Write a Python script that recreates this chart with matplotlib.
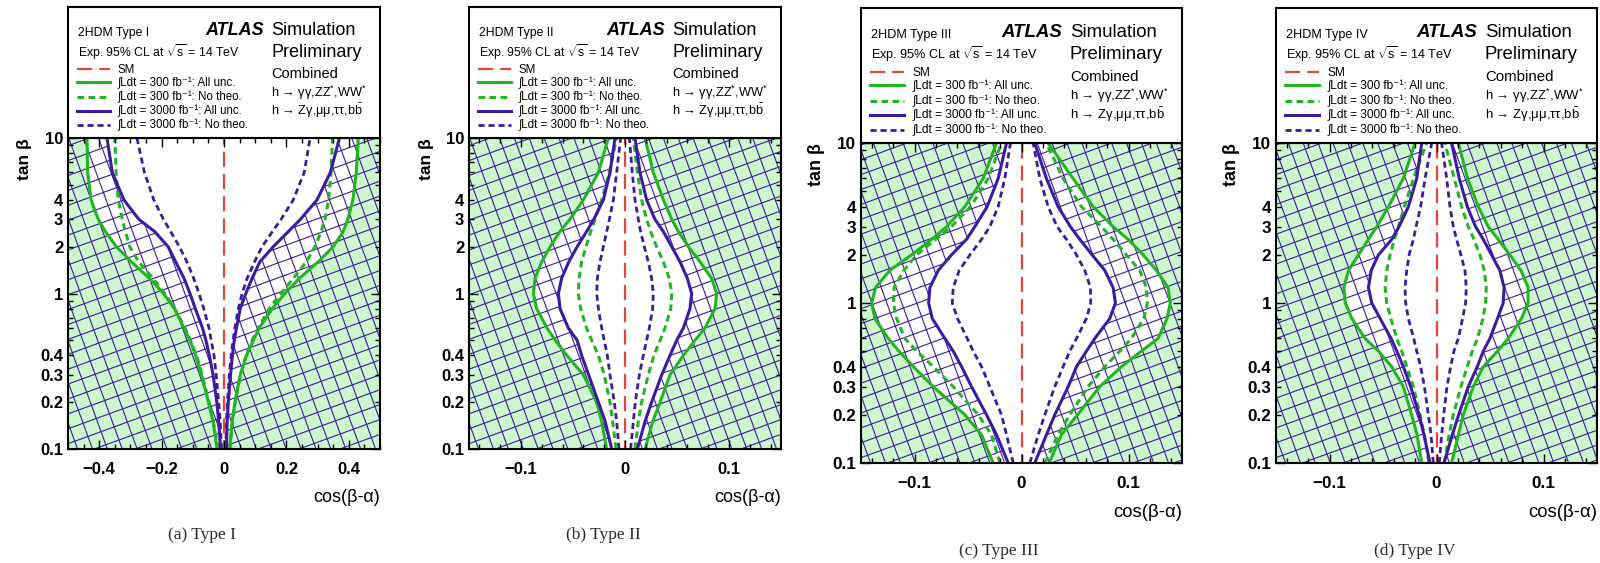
import numpy as np
import matplotlib
matplotlib.use("Agg")
import matplotlib.pyplot as plt
from matplotlib.collections import LineCollection
from matplotlib.ticker import FixedLocator, FuncFormatter, MultipleLocator

plt.rcParams['font.family'] = ['Liberation Sans', 'DejaVu Sans']
plt.rcParams['mathtext.fontset'] = 'custom'
plt.rcParams['mathtext.rm'] = 'Liberation Sans'
plt.rcParams['mathtext.it'] = 'Liberation Sans:italic'
plt.rcParams['mathtext.bf'] = 'Liberation Sans:bold'

# tan(beta) values at which the contour edges are given
tanb = [0.1, 0.15, 0.2, 0.3, 0.4, 0.5, 0.6, 0.8, 1.0, 1.25, 1.6, 2.0, 2.5, 3.0, 4.0, 6.0, 10.0]

# Type I: left / right edges of the allowed cos(beta-alpha) band
t1_300all_lo = [-0.022, -0.035, -0.050, -0.072, -0.091, -0.109, -0.128, -0.159, -0.194, -0.239, -0.297, -0.345, -0.380, -0.403, -0.426, -0.437, -0.439]
t1_300all_hi = [0.018, 0.026, 0.035, 0.052, 0.072, 0.094, 0.113, 0.155, 0.195, 0.241, 0.302, 0.350, 0.382, 0.397, 0.413, 0.424, 0.430]
t1_300noth_lo = [-0.019, -0.034, -0.048, -0.070, -0.088, -0.108, -0.125, -0.158, -0.190, -0.227, -0.274, -0.302, -0.316, -0.326, -0.339, -0.346, -0.350]
t1_300noth_hi = [0.019, 0.027, 0.036, 0.053, 0.071, 0.090, 0.110, 0.145, 0.182, 0.222, 0.264, 0.292, 0.311, 0.324, 0.335, 0.343, 0.348]
t1_3000all_lo = [-0.011, -0.017, -0.023, -0.035, -0.047, -0.058, -0.069, -0.092, -0.109, -0.128, -0.155, -0.179, -0.222, -0.273, -0.321, -0.358, -0.375]
t1_3000all_hi = [0.008, 0.010, 0.014, 0.021, 0.027, 0.033, 0.040, 0.052, 0.070, 0.090, 0.115, 0.158, 0.206, 0.245, 0.298, 0.341, 0.370]
t1_3000noth_lo = [-0.008, -0.012, -0.017, -0.025, -0.032, -0.041, -0.048, -0.065, -0.080, -0.097, -0.119, -0.143, -0.171, -0.194, -0.225, -0.255, -0.279]
t1_3000noth_hi = [0.006, 0.008, 0.011, 0.017, 0.023, 0.029, 0.035, 0.046, 0.058, 0.074, 0.098, 0.122, 0.155, 0.183, 0.222, 0.257, 0.276]

# Type II
t2_300all_lo = [-0.0176, -0.0224, -0.0272, -0.040, -0.056, -0.067, -0.075, -0.085, -0.088, -0.0865, -0.080, -0.072, -0.0625, -0.053, -0.040, -0.0256, -0.016]
t2_300all_hi = [0.0192, 0.0266, 0.0337, 0.0433, 0.0561, 0.0673, 0.0769, 0.0865, 0.0881, 0.0833, 0.0721, 0.0609, 0.0513, 0.0449, 0.0369, 0.0272, 0.0192]
t2_300noth_lo = [-0.0087, -0.0119, -0.0144, -0.020, -0.0256, -0.032, -0.037, -0.0426, -0.0449, -0.0442, -0.0417, -0.0375, -0.033, -0.0288, -0.0224, -0.015, -0.008]
t2_300noth_hi = [0.0096, 0.0128, 0.016, 0.0224, 0.0279, 0.0337, 0.0385, 0.044, 0.0449, 0.0426, 0.0369, 0.0304, 0.0247, 0.0208, 0.016, 0.0119, 0.008]
t2_3000all_lo = [-0.0128, -0.019, -0.0256, -0.035, -0.0417, -0.046, -0.0545, -0.0625, -0.064, -0.061, -0.054, -0.046, -0.037, -0.030, -0.0208, -0.0144, -0.0096]
t2_3000all_hi = [0.0119, 0.0192, 0.0256, 0.0353, 0.0433, 0.0497, 0.0561, 0.0625, 0.0641, 0.060, 0.0529, 0.0449, 0.0369, 0.0288, 0.0208, 0.0144, 0.0096]
t2_3000noth_lo = [-0.0058, -0.008, -0.0103, -0.0144, -0.017, -0.020, -0.0224, -0.0256, -0.0272, -0.0266, -0.024, -0.0208, -0.0176, -0.015, -0.0112, -0.008, -0.0042]
t2_3000noth_hi = [0.0054, 0.008, 0.0099, 0.0138, 0.0176, 0.0208, 0.0234, 0.0266, 0.0272, 0.0256, 0.0224, 0.0186, 0.015, 0.0128, 0.0096, 0.007, 0.0042]

# Type III
t3_300all_lo = [-0.0265, -0.0373, -0.0529, -0.0825, -0.101, -0.1145, -0.1245, -0.137, -0.140, -0.1363, -0.123, -0.1027, -0.084, -0.070, -0.0529, -0.0358, -0.0233]
t3_300all_hi = [0.0258, 0.0373, 0.0523, 0.0731, 0.0934, 0.112, 0.1276, 0.136, 0.139, 0.137, 0.126, 0.1136, 0.0996, 0.0856, 0.0669, 0.0482, 0.0249]
t3_300noth_lo = [-0.0202, -0.028, -0.0405, -0.0638, -0.0825, -0.098, -0.109, -0.1167, -0.1198, -0.119, -0.110, -0.098, -0.080, -0.0654, -0.0476, -0.0311, -0.0187]
t3_300noth_hi = [0.0218, 0.0342, 0.0451, 0.0622, 0.0778, 0.0918, 0.1027, 0.1142, 0.1176, 0.1167, 0.1105, 0.098, 0.0856, 0.0747, 0.056, 0.0389, 0.0233]
t3_3000all_lo = [-0.0124, -0.0233, -0.0327, -0.0467, -0.056, -0.0638, -0.0716, -0.0834, -0.0868, -0.0856, -0.0778, -0.0654, -0.0514, -0.0436, -0.0321, -0.0218, -0.014]
t3_3000all_hi = [0.0124, 0.0233, 0.0311, 0.0436, 0.0514, 0.0607, 0.0685, 0.0825, 0.0878, 0.0856, 0.0778, 0.066, 0.0545, 0.0457, 0.0342, 0.0233, 0.0124]
t3_3000noth_lo = [-0.0078, -0.014, -0.0187, -0.0296, -0.0373, -0.0451, -0.0507, -0.0598, -0.0647, -0.0638, -0.0582, -0.0482, -0.0373, -0.0296, -0.0218, -0.0156, -0.0103]
t3_3000noth_hi = [0.0078, 0.0156, 0.0218, 0.0311, 0.0389, 0.0451, 0.0514, 0.0607, 0.0647, 0.0644, 0.0591, 0.0514, 0.042, 0.0333, 0.0249, 0.0171, 0.0109]

# Type IV
t4_300all_lo = [-0.0138, -0.0182, -0.0232, -0.031, -0.0418, -0.0542, -0.0667, -0.0791, -0.0853, -0.0866, -0.0822, -0.0729, -0.0636, -0.0558, -0.0449, -0.031, -0.020]
t4_300all_hi = [0.0141, 0.0204, 0.025, 0.0344, 0.0437, 0.057, 0.067, 0.0794, 0.0856, 0.0856, 0.0788, 0.0685, 0.0576, 0.0483, 0.039, 0.029, 0.0204]
t4_300noth_lo = [-0.007, -0.0113, -0.0154, -0.0216, -0.0278, -0.0325, -0.0371, -0.0427, -0.0465, -0.048, -0.0465, -0.0434, -0.0393, -0.0356, -0.030, -0.0216, -0.0092]
t4_300noth_hi = [0.0073, 0.0117, 0.0157, 0.0228, 0.0288, 0.0334, 0.0384, 0.0434, 0.0459, 0.0465, 0.0446, 0.0406, 0.035, 0.0297, 0.0235, 0.0166, 0.0079]
t4_3000all_lo = [-0.0061, -0.0117, -0.0163, -0.0241, -0.031, -0.0371, -0.0424, -0.0527, -0.0605, -0.0636, -0.061, -0.0542, -0.0418, -0.035, -0.0263, -0.0185, -0.0138]
t4_3000all_hi = [0.007, 0.0148, 0.0207, 0.0297, 0.0381, 0.0437, 0.0499, 0.057, 0.0623, 0.0632, 0.0592, 0.0514, 0.0437, 0.0365, 0.0288, 0.0213, 0.0141]
t4_3000noth_lo = [-0.003, -0.0051, -0.0076, -0.0113, -0.0148, -0.0185, -0.0213, -0.0263, -0.0288, -0.0294, -0.0278, -0.0256, -0.0216, -0.0191, -0.0148, -0.0107, -0.0045]
t4_3000noth_hi = [0.0026, 0.0048, 0.0067, 0.0098, 0.0132, 0.0163, 0.0204, 0.0244, 0.0272, 0.0278, 0.0266, 0.0228, 0.0188, 0.0157, 0.0126, 0.0095, 0.0048]

# SM expectation line
sm_cos = [0.0, 0.0]
sm_tanb = [0.1, 10.0]

type_names = ['I', 'II', 'III', 'IV']
captions = ['(a) Type I', '(b) Type II', '(c) Type III', '(d) Type IV']
y_labelled = [0.2, 0.3, 0.4, 2, 3, 4]
legend_labels = ['SM',
                 '∫Ldt = 300 fb⁻¹: All unc.',
                 '∫Ldt = 300 fb⁻¹: No theo.',
                 '∫Ldt = 3000 fb⁻¹: All unc.',
                 '∫Ldt = 3000 fb⁻¹: No theo.']

GREEN_FILL = '#ccf6cc'
GREEN = '#22b422'
BLUE = '#3b1ca0'
RED = '#e2473f'

W, H = 1600, 563
fig = plt.figure(figsize=(W / 100, H / 100), dpi=100)
fig.patch.set_facecolor('white')


def frac(x0, y0, x1, y1):
    return [x0 / W, 1 - y1 / H, (x1 - x0) / W, (y1 - y0) / H]


def hatch_segments(w, h, spacing=14.0, angle=20.0):
    # crossed hatch lines, built in pixels and returned in axes fractions
    th = np.radians(angle)
    corners = np.array([[0, 0], [w, 0], [0, h], [w, h]], dtype=float)
    segs = []
    for d in (np.array([np.cos(th), np.sin(th)]), np.array([-np.sin(th), np.cos(th)])):
        n = np.array([-d[1], d[0]])
        proj = corners @ n
        L = w + h
        start = np.floor(proj.min() / spacing) * spacing + 5
        for c in np.arange(start, proj.max() + spacing, spacing):
            p0 = c * n - L * d
            p1 = c * n + L * d
            segs.append([(p0[0] / w, p0[1] / h), (p1[0] / w, p1[1] / h)])
    return segs


def fmt_x(v, pos):
    if abs(v) < 1e-9:
        return '0'
    s = f'{abs(v):g}'
    return '\u2212' + s if v < 0 else s


def draw_panel(ax_box, leg_box, k, xlim, xmaj, xmin, curves, name, caption, cap_xy):
    g_lo, g_hi, gd_lo, gd_hi, b_lo, b_hi, bd_lo, bd_hi = curves
    w = ax_box[2] - ax_box[0]
    h = ax_box[3] - ax_box[1]

    ax = fig.add_axes(frac(*ax_box))
    ax.set_yscale('log')
    ax.set_facecolor(GREEN_FILL)
    ax.fill_betweenx(tanb, g_lo, g_hi, color='white', lw=0, zorder=0.5)
    ax.add_collection(LineCollection(hatch_segments(w, h), colors=BLUE, linewidths=0.8,
                                     transform=ax.transAxes, zorder=0.6), autolim=False)
    ax.fill_betweenx(tanb, b_lo, b_hi, color='white', lw=0, zorder=0.7)

    dash = (0, (2.2, 1.4))
    for xs in (g_lo, g_hi):
        ax.plot(xs, tanb, color=GREEN, lw=2.2, zorder=1.2)
    for xs in (gd_lo, gd_hi):
        ax.plot(xs, tanb, color=GREEN, lw=2.2, ls=dash, zorder=1.1)
    for xs in (b_lo, b_hi):
        ax.plot(xs, tanb, color=BLUE, lw=2.2, zorder=1.3)
    for xs in (bd_lo, bd_hi):
        ax.plot(xs, tanb, color=BLUE, lw=2.0, ls=dash, zorder=1.3)
    ax.plot(sm_cos, sm_tanb, color=RED, lw=1.6, ls=(3, (6.8, 3.2)), zorder=1.4)

    ax.set_xlim(xlim)
    ax.set_ylim(0.1, 10)
    ax.xaxis.set_major_locator(MultipleLocator(xmaj))
    ax.xaxis.set_minor_locator(MultipleLocator(xmin))
    ax.xaxis.set_major_formatter(FuncFormatter(fmt_x))
    ax.yaxis.set_major_locator(FixedLocator([0.1, 1, 10]))
    ax.yaxis.set_minor_locator(FixedLocator([0.2, 0.3, 0.4, 0.5, 0.6, 0.7, 0.8, 0.9,
                                             2, 3, 4, 5, 6, 7, 8, 9]))
    ax.yaxis.set_major_formatter(FuncFormatter(lambda v, p: f'{v:g}'))
    ax.yaxis.set_minor_formatter(FuncFormatter(
        lambda v, p: f'{v:g}' if any(abs(v - u) < 1e-6 for u in y_labelled) else ''))
    ax.tick_params(which='both', direction='in', top=True, right=True, width=1.0,
                   labelsize=12 * k)
    ax.tick_params(which='major', length=6.5 * k)
    ax.tick_params(which='minor', length=3.3 * k)
    ax.tick_params(axis='x', which='both', pad=9.0 * k)
    ax.tick_params(axis='y', which='both', pad=3.4 * k)
    plt.setp(ax.get_xticklabels(which='both') + ax.get_yticklabels(which='both'),
             fontweight='bold')
    for sp in ax.spines.values():
        sp.set_linewidth(1.5)

    ax.text(1.0, -48 * k / h, 'cos(β-α)', transform=ax.transAxes,
            ha='right', va='center', fontsize=13 * k)
    ax.text(-43 * k / w, 1.0, 'tan β', transform=ax.transAxes, rotation=90,
            ha='center', va='top', fontsize=12.5 * k, fontweight='bold')

    # header box with labels and legend
    lg = fig.add_axes(frac(*leg_box))
    lg.set_xlim(0, 1)
    lg.set_ylim(0, 1)
    lg.set_xticks([])
    lg.set_yticks([])
    for sp in lg.spines.values():
        sp.set_linewidth(1.5)

    lg.text(0.032, 0.779, f'2HDM Type {name}', fontsize=8.8 * k, va='baseline')
    lg.text(0.032, 0.621, r'Exp. 95% CL at $\sqrt{\mathrm{s}}$ = 14 TeV',
            fontsize=8.8 * k, va='baseline')
    lg.text(0.627, 0.786, 'ATLAS', fontsize=13 * k, fontweight='bold',
            fontstyle='italic', ha='right', va='baseline')
    lg.text(0.651, 0.786, 'Simulation', fontsize=13 * k, va='baseline')
    lg.text(0.651, 0.621, 'Preliminary', fontsize=13 * k, va='baseline')
    lg.text(0.651, 0.46, 'Combined', fontsize=10.5 * k, va='baseline')
    lg.text(0.651, 0.315, r'h → γγ,ZZ$^{*}$,WW$^{*}$', fontsize=9.2 * k, va='baseline')
    lg.text(0.651, 0.176, r'h → Zγ,μμ,ττ,b$\bar{\mathrm{b}}$', fontsize=9.2 * k,
            va='baseline')

    styles = [dict(color=RED, lw=1.6, ls=(0, (6.8, 3.2))),
              dict(color=GREEN, lw=2.2),
              dict(color=GREEN, lw=2.2, ls=dash),
              dict(color=BLUE, lw=2.2),
              dict(color=BLUE, lw=2.0, ls=dash)]
    line_y = [0.527, 0.427, 0.313, 0.206, 0.099]
    text_y = [0.499, 0.397, 0.29, 0.183, 0.074]
    for st, ly, ty, lab in zip(styles, line_y, text_y, legend_labels):
        lg.plot([0.029, 0.135], [ly, ly], **st)
        lg.text(0.16, ty, lab, fontsize=8.3 * k, va='baseline')

    fig.text(cap_xy[0] / W, 1 - cap_xy[1] / H, caption, ha='center', va='center',
             family='Liberation Serif', fontsize=12.5, color='#2a2a2a')


panels = [
    ((68, 138, 380, 449), (68, 7, 380, 138), 1.0, (-0.5, 0.5), 0.2, 0.05,
     (t1_300all_lo, t1_300all_hi, t1_300noth_lo, t1_300noth_hi,
      t1_3000all_lo, t1_3000all_hi, t1_3000noth_lo, t1_3000noth_hi), (202, 535)),
    ((469, 138, 781, 449), (469, 7, 781, 138), 1.0, (-0.15, 0.15), 0.1, 0.02,
     (t2_300all_lo, t2_300all_hi, t2_300noth_lo, t2_300noth_hi,
      t2_3000all_lo, t2_3000all_hi, t2_3000noth_lo, t2_3000noth_hi), (603, 535)),
    ((861, 143, 1182, 463), (861, 8, 1182, 143), 1.03, (-0.15, 0.15), 0.1, 0.02,
     (t3_300all_lo, t3_300all_hi, t3_300noth_lo, t3_300noth_hi,
      t3_3000all_lo, t3_3000all_hi, t3_3000noth_lo, t3_3000noth_hi), (999, 551)),
    ((1276, 143, 1597, 463), (1276, 8, 1597, 143), 1.03, (-0.15, 0.15), 0.1, 0.02,
     (t4_300all_lo, t4_300all_hi, t4_300noth_lo, t4_300noth_hi,
      t4_3000all_lo, t4_3000all_hi, t4_3000noth_lo, t4_3000noth_hi), (1415, 551)),
]

for (ab, lb, k, xl, xmaj, xmin, cv, cxy), nm, cap in zip(panels, type_names, captions):
    draw_panel(ab, lb, k, xl, xmaj, xmin, cv, nm, cap, cxy)

fig.savefig('out.png', dpi=100)
